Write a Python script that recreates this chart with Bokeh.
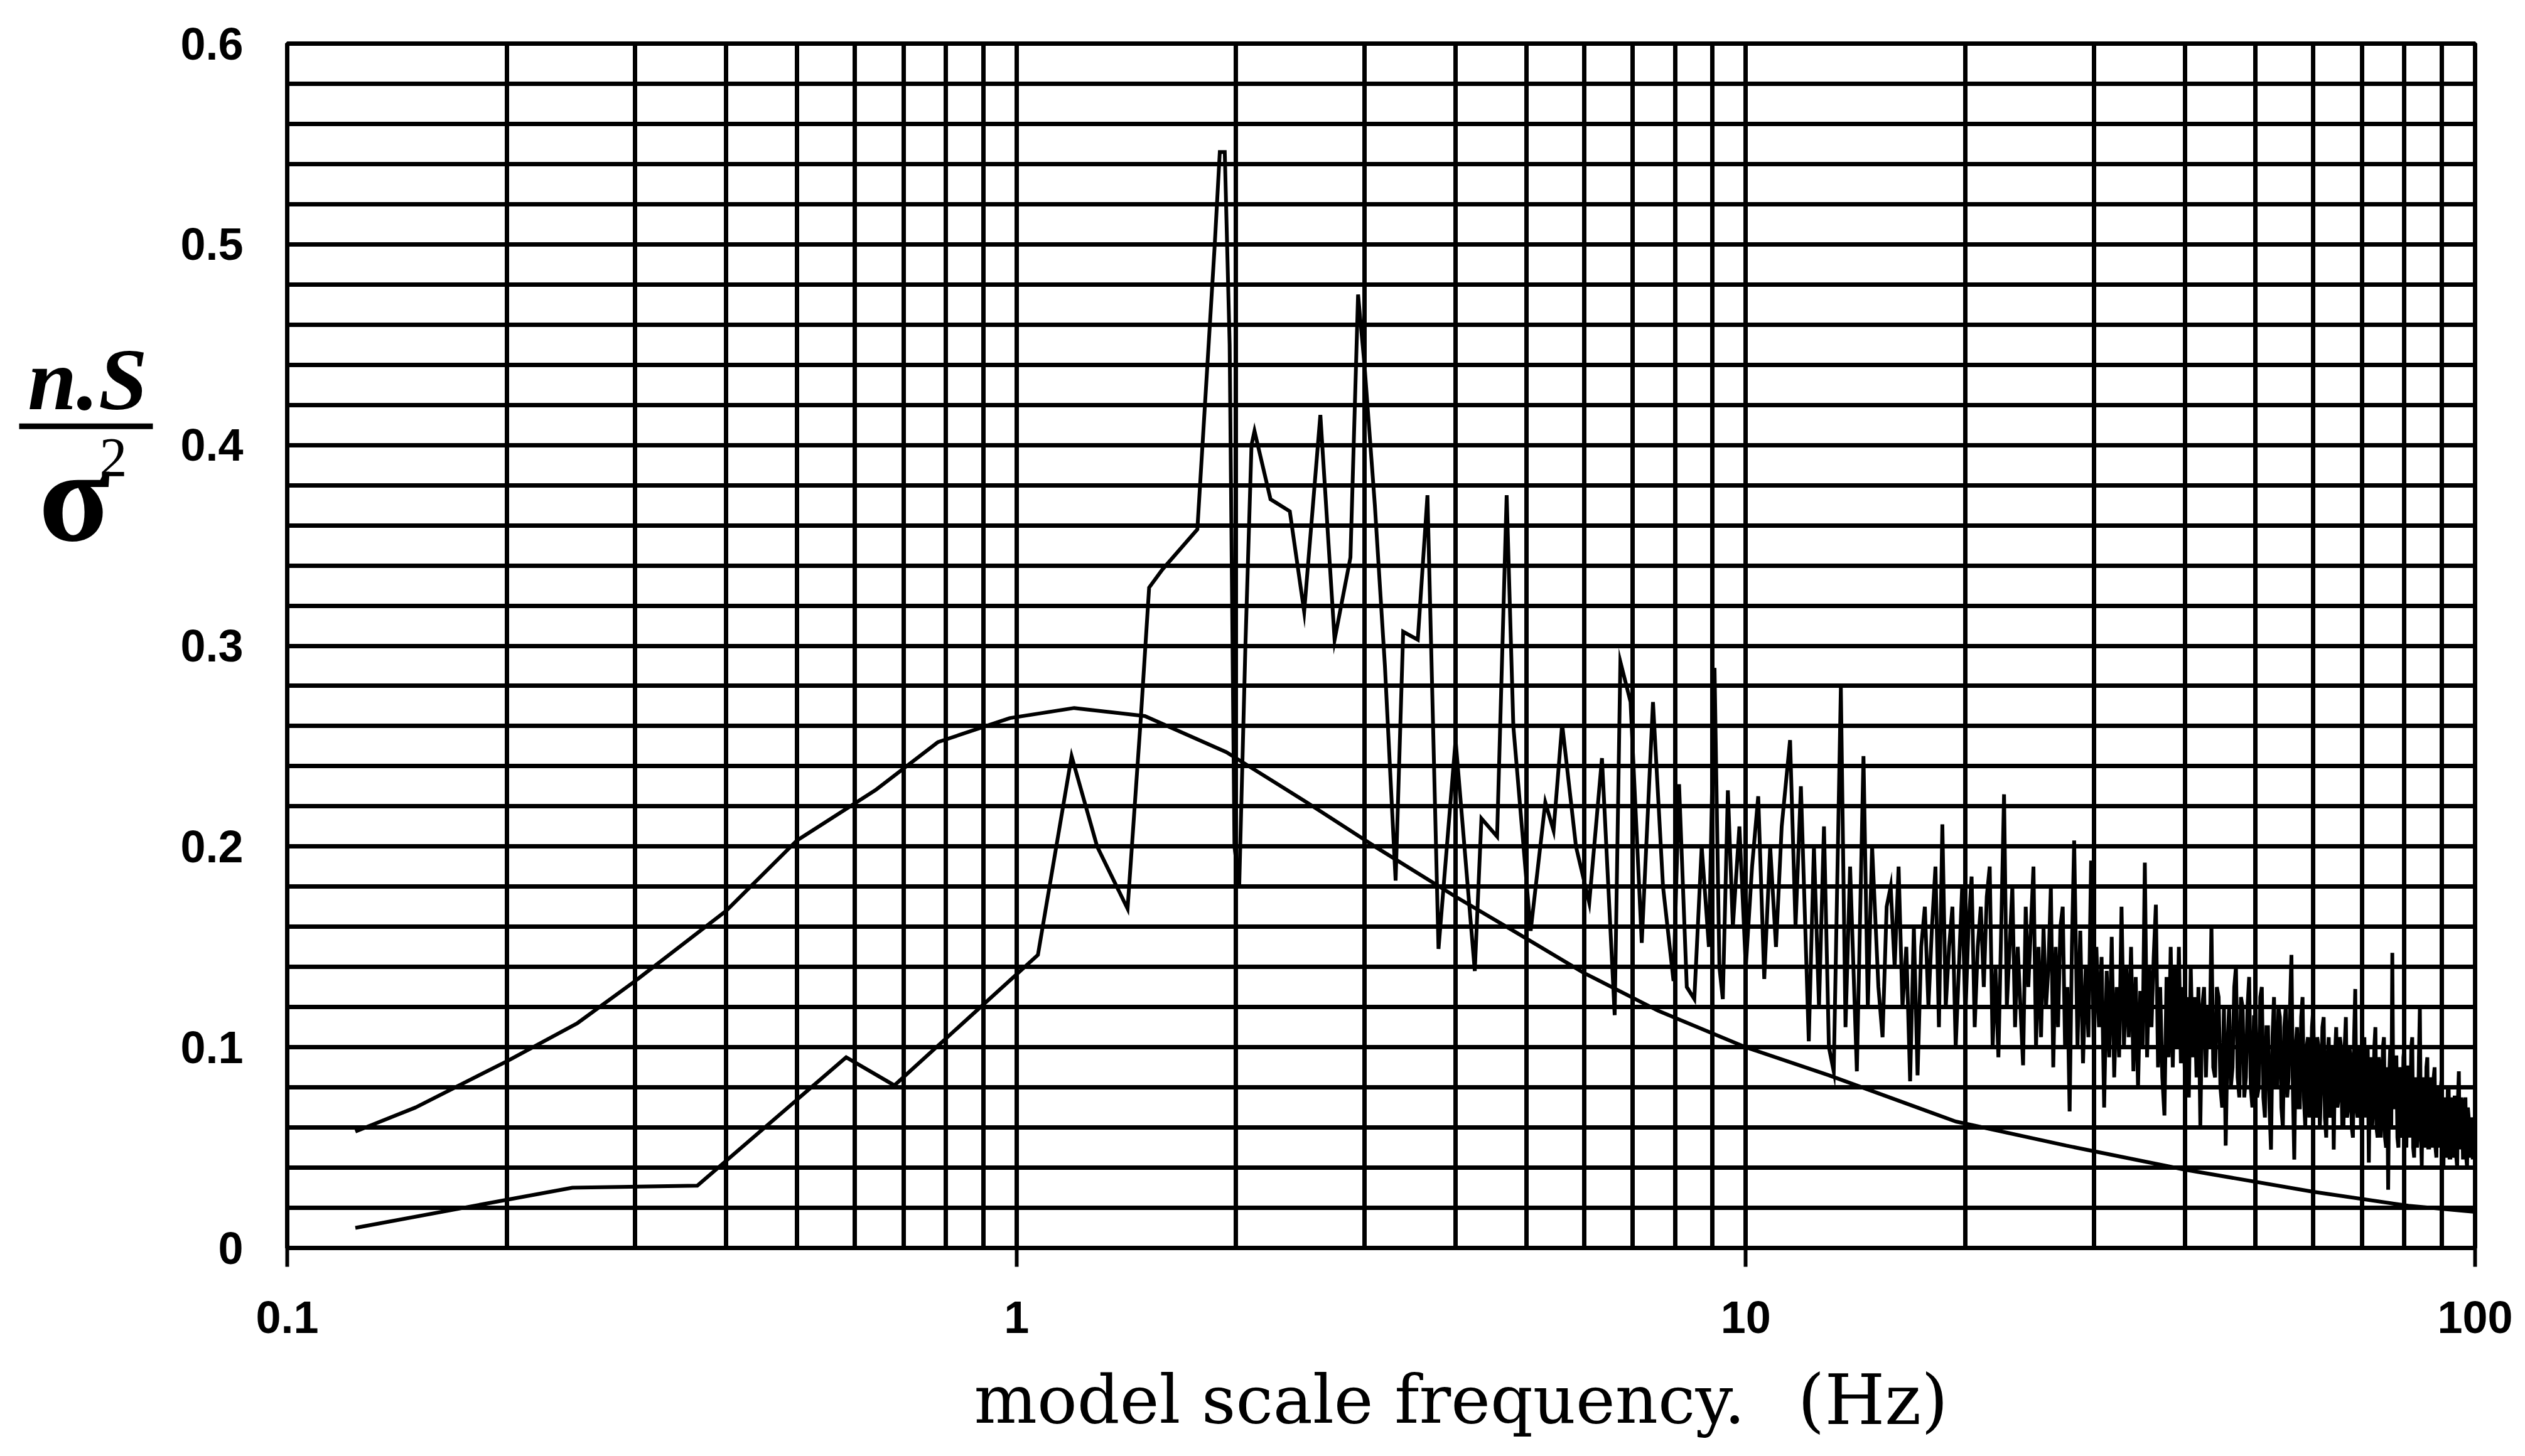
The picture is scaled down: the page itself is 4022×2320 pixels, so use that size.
from bokeh.plotting import figure
from bokeh.models import Range1d, FixedTicker, CustomJSTickFormatter
from bokeh.layouts import row, column
from bokeh.embed import file_html
from bokeh.resources import INLINE
from bokeh.core.properties import value

# ---------------- data ----------------
x_major = [0.1, 1, 10, 100]
x_minor = [0.2, 0.3, 0.4, 0.5, 0.6, 0.7, 0.8, 0.9,
           2, 3, 4, 5, 6, 7, 8, 9,
           20, 30, 40, 50, 60, 70, 80, 90]
y_major = [0, 0.1, 0.2, 0.3, 0.4, 0.5, 0.6]
y_minor = [0.02, 0.04, 0.06, 0.08, 0.12, 0.14, 0.16, 0.18, 0.22, 0.24, 0.26, 0.28,
           0.32, 0.34, 0.36, 0.38, 0.42, 0.44, 0.46, 0.48, 0.52, 0.54, 0.56, 0.58]

y_title_top = "n.S"
y_title_bottom = "σ"
y_title_exp = "2"
x_title = "model scale frequency."
x_unit = "(Hz)"

# theoretical (smooth) spectrum
smooth_f = [0.124, 0.15, 0.2, 0.25, 0.3, 0.4, 0.5, 0.64, 0.78, 0.98, 1.2, 1.5, 1.94,
            2.5, 3.1, 4.0, 4.8, 6.0, 7.6, 10, 13, 19.4, 27.5, 40, 60, 81, 100]
smooth_v = [0.058, 0.070, 0.093, 0.112, 0.133, 0.168, 0.203, 0.228, 0.252, 0.264, 0.269, 0.265, 0.247,
            0.222, 0.200, 0.175, 0.158, 0.137, 0.118, 0.100, 0.086, 0.063, 0.051, 0.039, 0.028, 0.021, 0.018]

# measured spectrum, low frequencies
meas_f_low = [0.124, 0.200, 0.246, 0.365, 0.584, 0.680, 1.070, 1.190, 1.290, 1.420,
              1.480, 1.520, 1.585, 1.770, 1.870, 1.900, 1.930, 1.960, 1.990, 2.020,
              2.060, 2.100, 2.120, 2.230, 2.370, 2.480, 2.610, 2.730, 2.870, 2.940,
              3.000, 3.100, 3.200, 3.310, 3.390, 3.550, 3.660, 3.790, 4.000, 4.250,
              4.340, 4.560, 4.700, 4.800, 5.070, 5.310, 5.450, 5.600, 5.850, 6.100,
              6.350, 6.610, 6.730, 6.950, 7.200, 7.460, 7.700, 7.960, 8.100]
meas_v_low = [0.010, 0.024, 0.030, 0.031, 0.095, 0.081, 0.146, 0.245, 0.200, 0.169,
              0.263, 0.329, 0.338, 0.358, 0.500, 0.546, 0.546, 0.450, 0.200, 0.180,
              0.300, 0.400, 0.407, 0.373, 0.367, 0.317, 0.415, 0.303, 0.344, 0.475,
              0.440, 0.370, 0.290, 0.183, 0.307, 0.303, 0.375, 0.149, 0.253, 0.138,
              0.214, 0.205, 0.375, 0.260, 0.158, 0.222, 0.208, 0.261, 0.200, 0.172,
              0.244, 0.116, 0.292, 0.272, 0.152, 0.272, 0.180, 0.133, 0.231]

# measured spectrum, 8-15 Hz
meas_f_mid = [8.3, 8.5, 8.7, 8.9, 9.06, 9.2, 9.3, 9.45, 9.6, 9.8,
              10.0, 10.2, 10.4, 10.6, 10.8, 11.0, 11.2, 11.5, 11.7, 11.9,
              12.2, 12.4, 12.6, 12.8, 13.0, 13.2, 13.5, 13.7, 13.9, 14.2,
              14.5, 14.7, 14.9]
meas_v_mid = [0.130, 0.124, 0.200, 0.150, 0.289, 0.140, 0.124, 0.228, 0.160, 0.210,
              0.140, 0.190, 0.225, 0.134, 0.200, 0.150, 0.210, 0.253, 0.160, 0.230,
              0.103, 0.200, 0.120, 0.210, 0.100, 0.088, 0.279, 0.110, 0.190, 0.088,
              0.245, 0.120, 0.200]

# measured spectrum, 15-28 Hz
meas_f_upper = [15.2, 15.4, 15.6, 15.8, 16.0,
                16.2, 16.4, 16.6, 16.8, 17.0,
                17.2, 17.4, 17.6, 17.8, 18.0,
                18.2, 18.4, 18.6, 18.8, 19.0,
                19.2, 19.4, 19.6, 19.8, 20.0,
                20.2, 20.4, 20.6, 20.8, 21.0,
                21.2, 21.4, 21.6, 21.8, 22.0,
                22.2, 22.4, 22.6, 22.8, 23.0,
                23.2, 23.4, 23.6, 23.8, 24.0,
                24.2, 24.4, 24.6, 24.8, 25.0,
                25.2, 25.4, 25.6, 25.8, 26.0,
                26.2, 26.4, 26.6, 26.8, 27.0,
                27.2, 27.4, 27.6, 27.8, 28.0,
                28.2]
meas_v_upper = [0.130, 0.105, 0.170, 0.180, 0.140,
                0.190, 0.120, 0.150, 0.083, 0.160,
                0.086, 0.150, 0.170, 0.120, 0.160,
                0.190, 0.110, 0.211, 0.120, 0.150,
                0.170, 0.100, 0.140, 0.180, 0.115,
                0.160, 0.185, 0.110, 0.150, 0.170,
                0.130, 0.175, 0.190, 0.100, 0.140,
                0.095, 0.160, 0.226, 0.120, 0.150,
                0.180, 0.110, 0.150, 0.120, 0.091,
                0.170, 0.130, 0.160, 0.190, 0.100,
                0.150, 0.105, 0.160, 0.120, 0.140,
                0.180, 0.090, 0.150, 0.110, 0.160,
                0.170, 0.100, 0.130, 0.068, 0.150,
                0.203]

# measured spectrum, 28-100 Hz
meas_f_high = [28.5, 28.75, 29.0, 29.25, 29.5, 29.75, 30.0, 30.25,
               30.5, 30.75, 31.0, 31.25, 31.5, 31.75, 32.0, 32.25,
               32.5, 32.75, 33.0, 33.25, 33.5, 33.75, 34.0, 34.25,
               34.5, 34.75, 35.0, 35.25, 35.5, 35.75, 36.0, 36.25,
               36.5, 36.75, 37.0, 37.25, 37.5, 37.75, 38.0, 38.25,
               38.5, 38.75, 39.0, 39.25, 39.5, 39.75, 40.0, 40.25,
               40.5, 40.75, 41.0, 41.25, 41.5, 41.75, 42.0, 42.25,
               42.5, 42.75, 43.0, 43.25, 43.5, 43.75, 44.0, 44.25,
               44.5, 44.75, 45.0, 45.25, 45.5, 45.75, 46.0, 46.25,
               46.5, 46.75, 47.0, 47.25, 47.5, 47.75, 48.0, 48.25,
               48.5, 48.75, 49.0, 49.25, 49.5, 49.75, 50.0, 50.25,
               50.5, 50.75, 51.0, 51.25, 51.5, 51.75, 52.0, 52.25,
               52.5, 52.75, 53.0, 53.25, 53.5, 53.75, 54.0, 54.25,
               54.5, 54.75, 55.0, 55.25, 55.5, 55.75, 56.0, 56.25,
               56.5, 56.75, 57.0, 57.25, 57.5, 57.75, 58.0, 58.25,
               58.5, 58.75, 59.0, 59.25, 59.5, 59.75, 60.0, 60.25,
               60.5, 60.75, 61.0, 61.25, 61.5, 61.75, 62.0, 62.25,
               62.5, 62.75, 63.0, 63.25, 63.5, 63.75, 64.0, 64.25,
               64.5, 64.75, 65.0, 65.25, 65.5, 65.75, 66.0, 66.25,
               66.5, 66.75, 67.0, 67.25, 67.5, 67.75, 68.0, 68.25,
               68.5, 68.75, 69.0, 69.25, 69.5, 69.75, 70.0, 70.25,
               70.5, 70.75, 71.0, 71.25, 71.5, 71.75, 72.0, 72.25,
               72.5, 72.75, 73.0, 73.25, 73.5, 73.75, 74.0, 74.25,
               74.5, 74.75, 75.0, 75.25, 75.5, 75.75, 76.0, 76.25,
               76.5, 76.75, 77.0, 77.25, 77.5, 77.75, 78.0, 78.25,
               78.5, 78.75, 79.0, 79.25, 79.5, 79.75, 80.0, 80.25,
               80.5, 80.75, 81.0, 81.25, 81.5, 81.75, 82.0, 82.25,
               82.5, 82.75, 83.0, 83.25, 83.5, 83.75, 84.0, 84.25,
               84.5, 84.75, 85.0, 85.25, 85.5, 85.75, 86.0, 86.25,
               86.5, 86.75, 87.0, 87.25, 87.5, 87.75, 88.0, 88.25,
               88.5, 88.75, 89.0, 89.25, 89.5, 89.75, 90.0, 90.25,
               90.5, 90.75, 91.0, 91.25, 91.5, 91.75, 92.0, 92.25,
               92.5, 92.75, 93.0, 93.25, 93.5, 93.75, 94.0, 94.25,
               94.5, 94.75, 95.0, 95.25, 95.5, 95.75, 96.0, 96.25,
               96.5, 96.75, 97.0, 97.25, 97.5, 97.75, 98.0, 98.25,
               98.5, 98.75, 99.0, 99.25, 99.5, 99.75, 100.0]
meas_v_high = [0.100, 0.158, 0.092, 0.140, 0.105, 0.193, 0.098, 0.150,
               0.110, 0.145, 0.070, 0.138, 0.095, 0.155, 0.085, 0.130,
               0.095, 0.170, 0.100, 0.140, 0.105, 0.150, 0.088, 0.135,
               0.080, 0.128, 0.100, 0.192, 0.095, 0.140, 0.110, 0.145,
               0.171, 0.090, 0.130, 0.085, 0.066, 0.135, 0.095, 0.150,
               0.090, 0.140, 0.100, 0.150, 0.092, 0.130, 0.085, 0.125,
               0.075, 0.140, 0.095, 0.125, 0.085, 0.130, 0.061, 0.120,
               0.130, 0.085, 0.120, 0.100, 0.161, 0.090, 0.085, 0.130,
               0.125, 0.080, 0.070, 0.120, 0.051, 0.100, 0.120, 0.080,
               0.090, 0.130, 0.140, 0.085, 0.075, 0.125, 0.120, 0.075,
               0.085, 0.120, 0.135, 0.080, 0.070, 0.115, 0.115, 0.075,
               0.080, 0.125, 0.130, 0.075, 0.065, 0.110, 0.110, 0.070,
               0.049, 0.105, 0.125, 0.080, 0.080, 0.120, 0.115, 0.070,
               0.060, 0.110, 0.120, 0.075, 0.085, 0.120, 0.146, 0.080,
               0.044, 0.100, 0.110, 0.070, 0.070, 0.115, 0.125, 0.075,
               0.060, 0.100, 0.105, 0.065, 0.075, 0.110, 0.120, 0.070,
               0.065, 0.105, 0.100, 0.060, 0.080, 0.110, 0.115, 0.065,
               0.055, 0.095, 0.105, 0.065, 0.070, 0.100, 0.049, 0.095,
               0.110, 0.070, 0.075, 0.105, 0.100, 0.060, 0.060, 0.100,
               0.115, 0.065, 0.070, 0.100, 0.095, 0.060, 0.055, 0.105,
               0.129, 0.070, 0.065, 0.100, 0.100, 0.060, 0.060, 0.095,
               0.105, 0.065, 0.075, 0.100, 0.0425, 0.090, 0.095, 0.060,
               0.070, 0.100, 0.110, 0.060, 0.055, 0.095, 0.090, 0.055,
               0.065, 0.100, 0.105, 0.055, 0.050, 0.090, 0.029, 0.085,
               0.100, 0.060, 0.147, 0.070, 0.070, 0.095, 0.095, 0.055,
               0.050, 0.090, 0.085, 0.055, 0.060, 0.095, 0.100, 0.055,
               0.050, 0.090, 0.090, 0.055, 0.065, 0.100, 0.105, 0.050,
               0.045, 0.085, 0.080, 0.050, 0.060, 0.095, 0.120, 0.060,
               0.041, 0.080, 0.085, 0.050, 0.055, 0.090, 0.095, 0.050,
               0.050, 0.085, 0.080, 0.050, 0.060, 0.085, 0.090, 0.050,
               0.045, 0.080, 0.075, 0.050, 0.055, 0.080, 0.085, 0.045,
               0.040, 0.075, 0.070, 0.045, 0.050, 0.080, 0.080, 0.045,
               0.045, 0.075, 0.070, 0.045, 0.055, 0.075, 0.075, 0.045,
               0.040, 0.075, 0.088, 0.050, 0.050, 0.075, 0.070, 0.045,
               0.045, 0.070, 0.075, 0.045, 0.040, 0.070, 0.065, 0.045,
               0.050, 0.065, 0.060, 0.045, 0.045, 0.060, 0.055]

meas_f = meas_f_low + meas_f_mid + meas_f_upper + meas_f_high
meas_v = meas_v_low + meas_v_mid + meas_v_upper + meas_v_high

# ---------------- sizes ----------------
LEFT_W = 260          # column holding the y title
MAIN_W = 3750
MAIN_H = 2153
BOTTOM_H = 151        # row holding the x title

# ---------------- main chart ----------------
p = figure(width=MAIN_W, height=MAIN_H, x_axis_type="log",
           x_range=Range1d(0.1, 100), y_range=Range1d(0, 0.6),
           output_backend="svg", toolbar_location=None,
           min_border_left=197, min_border_right=68,
           min_border_top=69, min_border_bottom=165)

p.background_fill_color = "white"
p.border_fill_color = "white"
p.outline_line_color = "black"
p.outline_line_width = 7

xt = FixedTicker(ticks=x_major, minor_ticks=x_minor)
yt = FixedTicker(ticks=y_major, minor_ticks=y_minor)
p.xaxis.ticker = xt
p.yaxis.ticker = yt
p.xgrid.ticker = xt
p.ygrid.ticker = yt

for g in (p.xgrid, p.ygrid):
    g.grid_line_color = "black"
    g.grid_line_width = 7
    g.grid_line_alpha = 1
    g.minor_grid_line_color = "black"
    g.minor_grid_line_width = 7
    g.minor_grid_line_alpha = 1

p.xaxis.formatter = CustomJSTickFormatter(code="return tick >= 1 ? tick.toFixed(0) : tick.toFixed(1);")
p.yaxis.formatter = CustomJSTickFormatter(code="return tick == 0 ? '0' : tick.toFixed(1);")

for ax in (p.xaxis, p.yaxis):
    ax.axis_line_color = "black"
    ax.axis_line_width = 7
    ax.major_tick_line_color = "black"
    ax.major_tick_line_width = 6
    ax.major_tick_in = 0
    ax.minor_tick_in = 0
    ax.minor_tick_out = 0
    ax.major_label_text_font = "Liberation Sans"
    ax.major_label_text_font_style = "bold"
    ax.major_label_text_font_size = "72px"
    ax.major_label_text_color = "black"

p.xaxis.major_tick_out = 30
p.xaxis.major_label_standoff = 55
p.yaxis.major_tick_out = 0
p.yaxis.major_label_standoff = 70

p.line(smooth_f, smooth_v, line_color="black", line_width=6)
p.line(meas_f, meas_v, line_color="black", line_width=6, line_join="miter")

# ---------------- y title column (fraction n.S / sigma^2) ----------------
yl = figure(width=LEFT_W, height=MAIN_H, x_range=Range1d(0, LEFT_W), y_range=Range1d(0, MAIN_H),
            output_backend="svg", toolbar_location=None, min_border=0,
            x_axis_location=None, y_axis_location=None)
yl.outline_line_color = None
yl.grid.visible = False
yl.text(x=[139], y=[1553], text=[y_title_top], text_font=value("Liberation Serif"),
        text_font_style="bold italic", text_font_size="140px",
        text_align="center", text_baseline="alphabetic", text_color="black")
yl.segment(x0=[30], y0=[1469], x1=[243], y1=[1469], line_width=9, line_color="black")
yl.text(x=[118], y=[1345], text=[y_title_bottom], text_font=value("Liberation Serif"),
        text_font_style="bold", text_font_size="210px",
        text_align="center", text_baseline="alphabetic", text_color="black")
yl.text(x=[180], y=[1413], text=[y_title_exp], text_font=value("Liberation Serif"),
        text_font_size="88px", text_align="center", text_baseline="alphabetic",
        text_color="black")

# ---------------- x title row ----------------
xl = figure(width=LEFT_W + MAIN_W, height=BOTTOM_H, x_range=Range1d(0, LEFT_W + MAIN_W),
            y_range=Range1d(0, BOTTOM_H), output_backend="svg", toolbar_location=None,
            min_border=0, x_axis_location=None, y_axis_location=None)
xl.outline_line_color = None
xl.grid.visible = False
xl.text(x=[1551], y=[74], text=[x_title], text_font=value("DejaVu Serif"),
        text_font_size="106px", text_align="left", text_baseline="middle",
        text_color="black")
xl.text(x=[2863], y=[74], text=[x_unit], text_font=value("DejaVu Serif"),
        text_font_size="110px", text_align="left", text_baseline="middle",
        text_color="black")

layout = column(row(yl, p), xl)
open("out.html", "w").write(file_html(layout, INLINE))
